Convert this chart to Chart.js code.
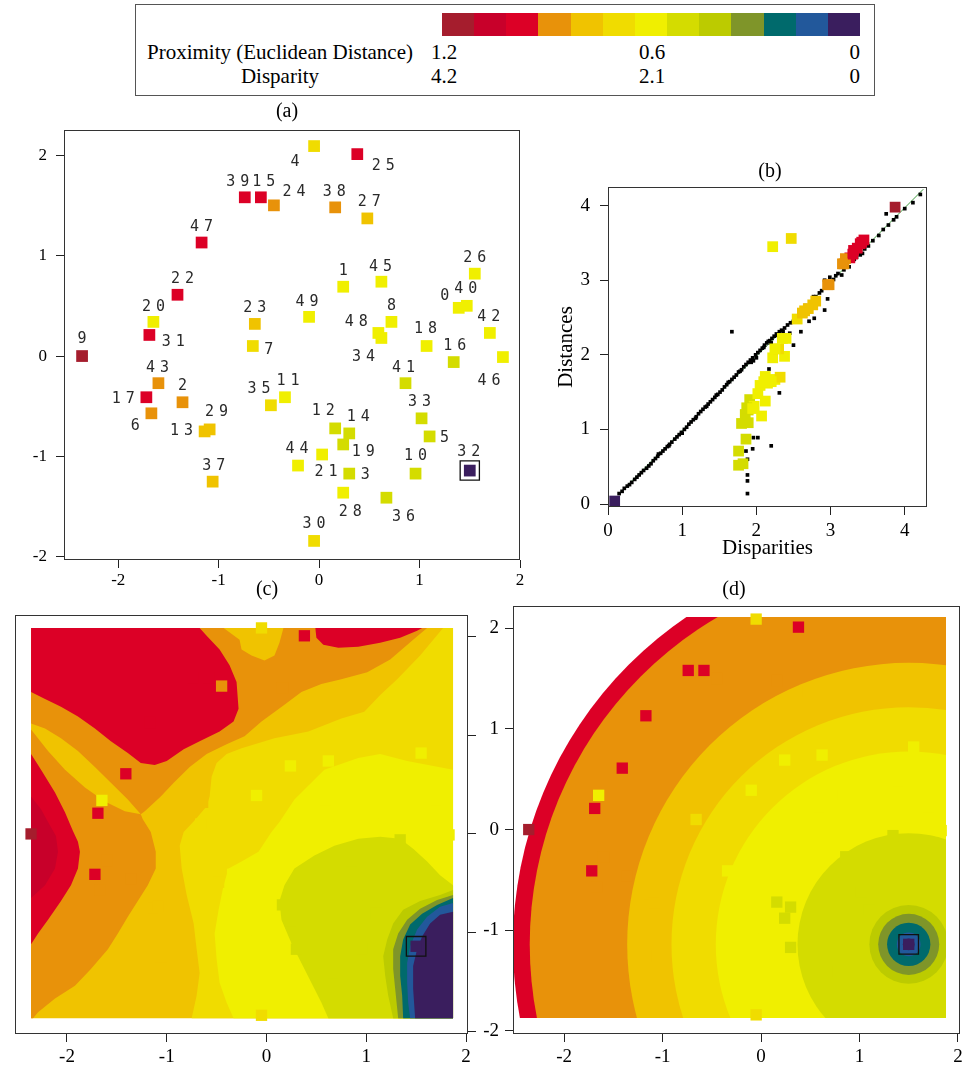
<!DOCTYPE html>
<html>
<head>
<meta charset="utf-8">
<title>MDS configuration and proximity maps</title>
<script src="https://cdn.jsdelivr.net/npm/chart.js@4.4.1/dist/chart.umd.min.js"></script>
<style>
  html, body { margin: 0; padding: 0; background: #fff; }
  body { position: relative; width: 973px; height: 1067px; overflow: hidden;
         font-family: "Liberation Serif", "Times New Roman", serif; color: #000; }
  canvas { position: absolute; }
  .tag { position: absolute; font-size: 20px; line-height: 1; white-space: nowrap; transform: translate(-50%, -50%); }
  #legend { position: absolute; left: 135px; top: 4px; width: 740px; height: 92px;
            border: 1.5px solid #555; box-sizing: border-box; }
  #bar { position: absolute; left: 306px; top: 8px; width: 418px; height: 23px; display: flex; }
  #bar span { flex: 1; }
  .lt { position: absolute; font-size: 21px; line-height: 1; white-space: nowrap; }
</style>
</head>
<body>

<div id="legend">
  <div id="bar"></div>
  <div class="lt" style="left:6px;width:276px;text-align:center;top:37px">Proximity (Euclidean Distance)</div>
  <div class="lt" style="left:6px;width:276px;text-align:center;top:61px">Disparity</div>
  <div class="lt" style="left:295px;top:37px">1.2</div>
  <div class="lt" style="left:516px;top:37px;transform:translateX(-50%)">0.6</div>
  <div class="lt" style="left:724px;top:37px;transform:translateX(-100%)">0</div>
  <div class="lt" style="left:295px;top:61px">4.2</div>
  <div class="lt" style="left:516px;top:61px;transform:translateX(-50%)">2.1</div>
  <div class="lt" style="left:724px;top:61px;transform:translateX(-100%)">0</div>
</div>

<canvas id="config" width="540" height="480" style="left:0;top:110px"></canvas>
<canvas id="shepard" width="420" height="400" style="left:550px;top:165px"></canvas>
<canvas id="surface" width="500" height="467" style="left:0;top:600px"></canvas>
<canvas id="rings" width="505" height="479" style="left:470px;top:588px"></canvas>

<div class="tag" style="left:287px;top:110px">(a)</div>
<div class="tag" style="left:770px;top:170px">(b)</div>
<div class="tag" style="left:267px;top:588px">(c)</div>
<div class="tag" style="left:734px;top:588px">(d)</div>

<script>
// colour classes, high proximity (dark red) down to zero (purple)
const palette = ['#a51d2d', '#c8002a', '#dc0026', '#e8920a', '#f0c300', '#f0dc00', '#f0ef00',
                 '#d4dc00', '#bccb00', '#7f9529', '#006a6c', '#22589b', '#3a1e5e'];

// MDS configuration, objects 0..49
const mdsX = [1.39, 0.24, -1.36, 0.30, -0.05, 1.10, -1.67, -0.66, 0.72, -2.36,
              0.96, -0.34, 0.16, -1.14, 0.30, -0.58, 1.34, -1.72, 1.07, 0.24,
              -1.65, 0.03, -1.41, -0.64, -0.45, 0.38, 1.55, 0.48, 0.24, -1.09,
              -0.05, -1.69, 1.50, 1.02, 0.62, -0.48, 0.67, -1.06, 0.16, -0.74,
              1.47, 0.86, 1.70, -1.60, -0.21, 0.62, 1.83, -1.17, 0.59, -0.10];
const mdsY = [0.48, 0.69, -0.46, -1.17, 2.09, -0.80, -0.57, 0.10, 0.34, 0.00,
              -1.17, -0.41, -0.72, -0.75, -0.77, 1.58, -0.06, -0.41, 0.10, -0.88,
              0.34, -0.98, 0.61, 0.32, 1.50, 2.01, 0.82, 1.37, -1.36, -0.73,
              -1.84, 0.21, -1.14, -0.62, 0.18, -0.49, -1.41, -1.25, 1.48, 1.58,
              0.50, -0.27, 0.23, -0.27, -1.09, 0.74, -0.01, 1.13, 0.23, 0.39];
// colour class of every object (index into palette)
const pointLevel = [6, 6, 3, 7, 5, 7, 3, 5, 6, 0,
                    7, 6, 7, 4, 7, 2, 7, 2, 6, 7,
                    6, 6, 2, 4, 3, 2, 6, 4, 6, 4,
                    5, 2, 12, 7, 6, 5, 7, 4, 3, 2,
                    6, 7, 6, 3, 6, 6, 6, 2, 6, 6];
const focusPoint = 32;

// Shepard diagram: disparity / distance of every object to object 32
const dispTo32 = [2.15, 2.40, 2.98, 1.85, 2.47, 1.76, 3.18, 2.55, 2.25, 3.87,
                  1.82, 2.38, 1.91, 2.76, 1.89, 3.36, 1.89, 3.26, 1.97, 1.87,
                  2.22, 2.02, 3.31, 2.65, 3.20, 3.30, 2.22, 2.80, 1.95, 2.70,
                  2.32, 3.40, 0.09, 1.76, 2.05, 2.30, 1.86, 2.62, 2.96, 3.45,
                  2.10, 1.80, 2.12, 3.16, 2.12, 2.25, 2.07, 3.42, 2.20, 2.35];
const distTo32 = [1.62, 2.22, 2.94, 1.20, 3.56, 0.52, 3.22, 2.48, 1.67, 3.98,
                  0.54, 1.98, 1.40, 2.67, 1.26, 3.43, 1.09, 3.30, 1.31, 1.29,
                  3.45, 1.48, 3.40, 2.59, 3.29, 3.35, 1.96, 2.72, 1.28, 2.62,
                  1.70, 3.49, 0.04, 0.71, 1.59, 2.08, 0.87, 2.56, 2.94, 3.54,
                  1.64, 1.08, 1.38, 3.22, 1.71, 2.08, 1.18, 3.51, 1.64, 2.22];

// all other object pairs: [disparity, distance]
const shepardPairs = [
  [0.15, 0.14], [0.19, 0.17], [0.22, 0.21], [0.26, 0.24], [0.29, 0.26], [0.32, 0.29],
  [0.36, 0.33], [0.39, 0.36], [0.42, 0.39], [0.45, 0.42], [0.48, 0.45], [0.52, 0.48],
  [0.55, 0.51], [0.58, 0.54], [0.61, 0.58], [0.64, 0.61], [0.67, 0.64], [0.71, 0.68],
  [0.74, 0.71], [0.77, 0.74], [0.80, 0.77], [0.83, 0.80], [0.86, 0.83], [0.90, 0.87],
  [0.93, 0.90], [0.96, 0.93], [0.99, 0.96], [1.03, 1.00], [1.06, 1.03], [1.09, 1.07],
  [1.12, 1.10], [1.15, 1.13], [1.19, 1.17], [1.22, 1.21], [1.25, 1.24], [1.28, 1.27],
  [1.31, 1.30], [1.35, 1.34], [1.38, 1.37], [1.41, 1.40], [1.44, 1.43], [1.48, 1.47],
  [1.51, 1.50], [1.54, 1.53], [1.57, 1.57], [1.60, 1.60], [1.64, 1.64], [1.67, 1.67],
  [1.70, 1.70], [1.73, 1.73], [1.76, 1.77], [1.80, 1.80], [1.83, 1.84], [1.86, 1.87],
  [1.89, 1.90], [1.92, 1.93], [1.95, 1.96], [1.99, 2.00], [2.02, 2.03], [2.05, 2.06],
  [2.08, 2.09], [2.11, 2.13], [2.14, 2.16], [2.18, 2.19], [2.21, 2.22], [2.24, 2.25],
  [2.27, 2.28], [2.31, 2.31], [2.34, 2.33], [2.38, 2.36], [2.42, 2.40], [2.46, 2.43],
  [0.68, 0.67], [0.82, 0.78], [1.00, 0.95], [1.18, 1.15], [1.33, 1.31], [1.46, 1.46],
  [1.62, 1.63], [1.78, 1.78], [1.93, 1.90], [1.96, 1.92], [2.00, 1.96], [2.10, 2.10],
  [2.16, 2.18], [2.20, 2.16], [2.28, 2.26], [2.36, 2.31],
  [2.50, 2.45], [2.55, 2.49], [2.60, 2.53], [2.64, 2.58], [2.66, 2.66], [2.70, 2.63],
  [2.74, 2.70], [2.77, 2.78], [2.80, 2.78], [2.85, 2.83], [2.88, 2.86], [2.92, 3.00],
  [2.96, 2.95], [2.99, 3.04], [3.04, 3.01], [3.07, 3.06], [3.10, 3.09], [3.15, 3.07],
  [3.18, 3.14], [3.22, 3.20], [3.25, 3.18], [3.30, 3.27], [3.35, 3.31], [3.40, 3.34],
  [3.43, 3.36], [3.46, 3.42], [3.51, 3.46], [3.57, 3.53], [3.65, 3.60], [3.71, 3.68],
  [3.75, 3.89], [3.78, 3.74], [3.85, 3.81], [3.89, 3.85], [4.00, 3.96], [4.11, 4.04],
  [4.21, 4.15],
  [1.67, 2.31], [2.17, 1.81], [2.31, 1.49], [1.96, 0.89], [2.02, 0.89], [1.95, 0.74],
  [2.20, 0.78], [1.86, 0.71], [1.88, 0.60], [1.88, 0.39], [1.88, 0.31], [1.88, 0.14],
  [2.45, 2.29], [2.50, 2.13], [2.60, 2.31], [2.71, 2.45], [2.78, 2.49], [2.92, 2.60],
  [2.96, 2.75], [3.32, 3.28]
];
const fitLineX = [0.15, 4.25];
const fitLineY = [0.14, 4.22];

// interpolated proximity surface, one polygon per colour class
const surfBase = [[-2.36, 2.09], [1.87, 2.09], [1.87, -1.87], [-2.36, -1.87]];
const surfOrangeUpper = [[-2.36, 2.09], [-0.43, 2.09], [-0.27, 1.97], [-0.25, 1.87], [-0.15, 1.81],
  [-0.02, 1.76], [0.08, 1.81], [0.13, 1.94], [0.17, 2.09], [1.61, 2.09], [1.47, 1.97], [1.24, 1.77],
  [1.01, 1.64], [0.75, 1.57], [0.55, 1.52], [0.35, 1.44], [0.18, 1.31], [-0.05, 1.14], [-0.22, 0.99],
  [-0.40, 0.91], [-0.60, 0.81], [-0.77, 0.68], [-0.93, 0.52], [-1.06, 0.38], [-1.22, 0.23],
  [-1.26, 0.20], [-1.39, 0.35], [-1.56, 0.52], [-1.72, 0.68], [-1.89, 0.84], [-2.06, 0.97],
  [-2.22, 1.07], [-2.36, 1.12]];
const surfOrangeLower = [[-2.36, 1.06], [-2.19, 0.84], [-2.02, 0.65], [-1.82, 0.47], [-1.62, 0.33],
  [-1.42, 0.23], [-1.26, 0.20], [-1.24, 0.15], [-1.16, 0.02], [-1.11, -0.18], [-1.11, -0.35],
  [-1.19, -0.52], [-1.29, -0.68], [-1.39, -0.84], [-1.49, -1.01], [-1.59, -1.17], [-1.76, -1.37],
  [-1.92, -1.54], [-2.12, -1.67], [-2.29, -1.81], [-2.34, -1.87], [-2.36, -1.87]];
const surfRedUpperLeft = [[-2.36, 2.09], [-0.67, 2.09], [-0.60, 2.01], [-0.47, 1.87], [-0.37, 1.71],
  [-0.30, 1.54], [-0.28, 1.27], [-0.33, 1.14], [-0.47, 1.04], [-0.67, 0.94], [-0.83, 0.86],
  [-1.00, 0.74], [-1.12, 0.70], [-1.26, 0.72], [-1.39, 0.82], [-1.56, 0.94], [-1.72, 1.07],
  [-1.89, 1.19], [-2.06, 1.29], [-2.22, 1.37], [-2.36, 1.44]];
const surfRedUpperRight = [[0.49, 2.09], [0.50, 1.99], [0.57, 1.92], [0.72, 1.89], [0.92, 1.90],
  [1.14, 1.94], [1.34, 1.99], [1.51, 2.06], [1.56, 2.09]];
const surfRedLeft = [[-2.36, 0.81], [-2.26, 0.65], [-2.12, 0.42], [-2.02, 0.22], [-1.97, 0.10],
  [-1.94, 0.03], [-1.89, -0.08], [-1.87, -0.18], [-1.89, -0.35], [-1.96, -0.52], [-2.06, -0.68],
  [-2.19, -0.87], [-2.29, -1.01], [-2.36, -1.12]];
const surfDarkRed = [[-2.36, 0.38], [-2.26, 0.25], [-2.19, 0.12], [-2.11, -0.02], [-2.09, -0.18],
  [-2.12, -0.35], [-2.22, -0.52], [-2.36, -0.65]];
const surfPaleGold = [[1.77, 2.09], [1.54, 1.81], [1.31, 1.57], [1.14, 1.41], [0.98, 1.24],
  [0.75, 1.17], [0.42, 1.04], [0.08, 0.97], [-0.25, 0.87], [-0.40, 0.81], [-0.50, 0.72],
  [-0.55, 0.58], [-0.57, 0.38], [-0.60, 0.28], [-0.71, 0.15], [-0.83, 0.02], [-0.87, -0.12],
  [-0.85, -0.35], [-0.80, -0.62], [-0.73, -0.91], [-0.70, -1.17], [-0.67, -1.41], [-0.70, -1.64],
  [-0.75, -1.87], [1.87, -1.87], [1.87, 2.09]];
const surfYellow = [[1.87, 0.65], [1.41, 0.74], [1.14, 0.81], [0.92, 0.77], [0.58, 0.65],
  [0.28, 0.35], [0.13, 0.12], [0.05, 0.02], [-0.08, -0.18], [-0.25, -0.28], [-0.38, -0.35],
  [-0.43, -0.52], [-0.48, -0.77], [-0.52, -1.01], [-0.50, -1.27], [-0.47, -1.51], [-0.40, -1.71],
  [-0.33, -1.87], [1.87, -1.87]];
const surfLime = [[1.87, -0.52], [1.74, -0.42], [1.61, -0.28], [1.47, -0.15], [1.34, -0.05],
  [1.14, -0.03], [0.92, -0.05], [0.68, -0.12], [0.48, -0.22], [0.28, -0.35], [0.18, -0.52],
  [0.13, -0.68], [0.15, -0.87], [0.25, -1.11], [0.35, -1.31], [0.45, -1.51], [0.55, -1.71],
  [0.62, -1.87], [1.87, -1.87]];
const surfYellowGreen = [[1.87, -0.57], [1.74, -0.62], [1.54, -0.68], [1.37, -0.77], [1.27, -0.91],
  [1.21, -1.07], [1.17, -1.24], [1.19, -1.44], [1.22, -1.64], [1.27, -1.87], [1.87, -1.87]];
const surfOlive = [[1.87, -0.62], [1.71, -0.67], [1.54, -0.76], [1.41, -0.87], [1.32, -1.01],
  [1.27, -1.17], [1.27, -1.37], [1.29, -1.57], [1.32, -1.87], [1.87, -1.87]];
const surfTeal = [[1.87, -0.65], [1.71, -0.72], [1.56, -0.81], [1.44, -0.92], [1.37, -1.07],
  [1.34, -1.24], [1.34, -1.44], [1.36, -1.64], [1.37, -1.87], [1.87, -1.87]];
const surfBlue = [[1.87, -0.70], [1.74, -0.74], [1.61, -0.84], [1.51, -0.97], [1.44, -1.14],
  [1.41, -1.31], [1.41, -1.51], [1.42, -1.71], [1.44, -1.87], [1.87, -1.87]];
const surfPurple = [[1.87, -0.79], [1.74, -0.82], [1.64, -0.91], [1.56, -1.04], [1.51, -1.17],
  [1.47, -1.34], [1.47, -1.57], [1.49, -1.87], [1.87, -1.87]];
// bottom to top: [colour class, polygon]
const surfaceLayers = [
  [4, surfBase], [3, surfOrangeUpper], [3, surfOrangeLower], [2, surfRedUpperLeft],
  [2, surfRedUpperRight], [2, surfRedLeft], [1, surfDarkRed], [5, surfPaleGold], [6, surfYellow],
  [7, surfLime], [8, surfYellowGreen], [9, surfOlive], [10, surfTeal], [11, surfBlue], [12, surfPurple]
];

// Euclidean distance bands around object 32 (outer radius of each band)
const ringBounds = [-2.51, 1.88, -1.87, 2.11];   // xmin, xmax, ymin, ymax
const bandRadius = [4.02, 3.85, 2.86, 2.41, 1.96, 1.13, 0.40, 0.31, 0.22, 0.12, 0.06];
const bandLevel = [2, 3, 4, 5, 6, 7, 8, 9, 10, 11, 12];

// tick values
const mapTicks = [-2, -1, 0, 1, 2];
const shepTicks = [0, 1, 2, 3, 4];

// label placement around each square in (a), pixels
const labelOffset = [
  [-14, -12], [0, -16], [0, -16], [16, 2], [-19, 16], [15, 2], [-16, 13], [16, 4], [0, -16], [0, -17],
  [0, -17], [3, -16], [-12, -17], [-23, 0], [9, -16], [3, -15], [1, -16], [-23, 2], [-1, -17], [20, 8],
  [0, -15], [4, 18], [5, -16], [0, -16], [20, -13], [26, 12], [0, -16], [2, -16], [7, 19], [7, -17],
  [0, -17], [24, 7], [-1, -18], [-2, -16], [-18, 19], [-12, -16], [17, 19], [1, -16], [-1, -15], [-7, -15],
  [-1, -17], [-2, -15], [-1, -16], [-1, -15], [-1, -16], [-1, -15], [-14, 24], [0, -15], [-22, -11], [-2, -15]
];

// colour bar of the legend
const bar = document.getElementById('bar');
palette.forEach(c => {
  const s = document.createElement('span');
  s.style.background = c;
  bar.appendChild(s);
});

const serif = '"Liberation Serif", "Times New Roman", serif';
Chart.defaults.font.family = serif;
Chart.defaults.color = '#000';

const pointColours = pointLevel.map(l => palette[l]);
const configPoints = mdsX.map((x, i) => ({ x: x, y: mdsY[i] }));
const focusData = [{ x: mdsX[focusPoint], y: mdsY[focusPoint] }];

function axis(position, min, max, values, size, fontSize, labels, pad) {
  const vertical = position === 'left' || position === 'right';
  return {
    type: 'linear', position: position, min: min, max: max,
    afterBuildTicks: s => { s.ticks = values.map(v => ({ value: v })); },
    afterFit: s => { if (vertical) s.width = size; else s.height = size; },
    grid: { drawOnChartArea: false, drawTicks: true, tickLength: 8, tickColor: '#222', lineWidth: 1 },
    border: { display: false },
    ticks: { display: labels, color: '#000', font: { family: serif, size: fontSize }, padding: pad, maxRotation: 0 }
  };
}

const frame = {
  id: 'frame',
  afterDraw(chart) {
    const a = chart.chartArea, ctx = chart.ctx;
    ctx.save();
    ctx.strokeStyle = '#333';
    ctx.lineWidth = 1;
    ctx.strokeRect(Math.round(a.left) + 0.5, Math.round(a.top) + 0.5,
                   Math.round(a.right - a.left) - 1, Math.round(a.bottom - a.top) - 1);
    ctx.restore();
  }
};

// restricts a dataset to the rectangle its surface was computed on
const fieldClip = {
  id: 'fieldClip',
  beforeDatasetDraw(chart, args) {
    const r = chart.data.datasets[args.index].clipRect;
    if (!r) return;
    const sx = chart.scales.x, sy = chart.scales.y, ctx = chart.ctx;
    const l = sx.getPixelForValue(r[0]), rt = sx.getPixelForValue(r[1]);
    const b = sy.getPixelForValue(r[2]), t = sy.getPixelForValue(r[3]);
    ctx.save();
    ctx.beginPath();
    ctx.rect(l, t, rt - l, b - t);
    ctx.clip();
  },
  afterDatasetDraw(chart, args) {
    if (chart.data.datasets[args.index].clipRect) chart.ctx.restore();
  }
};

const idLabels = {
  id: 'idLabels',
  afterDatasetsDraw(chart) {
    const meta = chart.getDatasetMeta(1);
    const ctx = chart.ctx;
    const pitch = 14;
    ctx.save();
    ctx.font = '15px "DejaVu Sans Mono", monospace';
    ctx.fillStyle = '#2a2a2a';
    ctx.textAlign = 'center';
    ctx.textBaseline = 'middle';
    meta.data.forEach((pt, i) => {
      const text = String(i);
      const cx = pt.x + labelOffset[i][0], cy = pt.y + labelOffset[i][1];
      for (let k = 0; k < text.length; k++) {
        ctx.fillText(text[k], cx + (k - (text.length - 1) / 2) * pitch, cy);
      }
    });
    ctx.restore();
  }
};

const baseOptions = {
  responsive: false, animation: false, events: [],
  plugins: { legend: { display: false }, tooltip: { enabled: false } }
};

function focusBox(radius) {
  return { data: focusData, order: 0, pointStyle: 'rect', pointRadius: radius,
           backgroundColor: 'rgba(0,0,0,0)', borderColor: '#111', borderWidth: 1.3 };
}
function objectSquares(radius) {
  return { data: configPoints, order: 1, pointStyle: 'rect', pointRadius: radius,
           backgroundColor: pointColours, borderWidth: 0 };
}

// (a) configuration
new Chart(document.getElementById('config'), {
  type: 'scatter',
  data: { datasets: [focusBox(13.6), objectSquares(8.3)] },
  options: Object.assign({}, baseOptions, {
    layout: { padding: { left: 0, top: 20, right: 20, bottom: 0 } },
    scales: {
      x: axis('bottom', -2.54, 2.0, mapTicks, 30, 17, true, 2),
      y: axis('left', -2.03, 2.25, mapTicks, 64, 17, true, 9)
    }
  }),
  plugins: [frame, idLabels]
});

// (b) Shepard diagram
const shepX = axis('bottom', 0, 4.30, shepTicks, 58, 19, true, 5);
shepX.title = { display: true, text: 'Disparities', font: { family: serif, size: 21 }, color: '#000' };
const shepY = axis('left', -0.04, 4.25, shepTicks, 58, 19, true, 10);
shepY.title = { display: true, text: 'Distances', font: { family: serif, size: 21 }, color: '#000' };
new Chart(document.getElementById('shepard'), {
  type: 'scatter',
  data: {
    datasets: [
      { data: dispTo32.map((d, i) => ({ x: d, y: distTo32[i] })), order: 0, pointStyle: 'rect',
        pointRadius: 7.6, backgroundColor: pointColours, borderWidth: 0 },
      { data: shepardPairs.map(p => ({ x: p[0], y: p[1] })), order: 1, pointStyle: 'rect',
        pointRadius: 2.6, backgroundColor: '#000', borderWidth: 0 },
      { data: fitLineX.map((x, i) => ({ x: x, y: fitLineY[i] })), order: 2, showLine: true,
        borderColor: '#3f9a3f', borderWidth: 1, pointRadius: 0 }
    ]
  },
  options: Object.assign({}, baseOptions, {
    layout: { padding: { left: 0, top: 22, right: 43, bottom: 0 } },
    scales: { x: shepX, y: shepY }
  }),
  plugins: [frame]
});

// (c) interpolated proximity surface
const surfaceSets = surfaceLayers.map((layer, i) => ({
  data: layer[1].map(p => ({ x: p[0], y: p[1] })),
  order: 100 - i, showLine: true, fill: 'shape', tension: 0,
  backgroundColor: palette[layer[0]], borderColor: palette[layer[0]], borderWidth: 0, pointRadius: 0
}));
new Chart(document.getElementById('surface'), {
  type: 'scatter',
  data: { datasets: [focusBox(13.8), objectSquares(8)].concat(surfaceSets) },
  options: Object.assign({}, baseOptions, {
    layout: { padding: { left: 11, top: 6, right: 0, bottom: 0 } },
    scales: {
      x: axis('bottom', -2.52, 2.02, mapTicks, 33, 19, true, 4),
      y: axis('right', -2.03, 2.22, mapTicks, 32, 19, false, 4)
    }
  }),
  plugins: [frame]
});

// (d) distance bands around object 32
const ringSet = {
  data: bandRadius.map(() => ({ x: mdsX[focusPoint], y: mdsY[focusPoint] })),
  order: 50, clipRect: ringBounds, pointStyle: 'circle', borderWidth: 0,
  backgroundColor: bandLevel.map(l => palette[l]),
  pointRadius: c => {
    const s = c.chart.scales.x;
    return Math.abs(s.getPixelForValue(bandRadius[c.dataIndex]) - s.getPixelForValue(0));
  }
};
new Chart(document.getElementById('rings'), {
  type: 'scatter',
  data: { datasets: [focusBox(13.8), objectSquares(8), ringSet] },
  options: Object.assign({}, baseOptions, {
    layout: { padding: { left: 0, top: 18, right: 6, bottom: 0 } },
    scales: {
      x: axis('bottom', -2.52, 2.02, mapTicks, 33, 19, true, 4),
      y: axis('left', -2.03, 2.22, mapTicks, 43, 19, true, 6)
    }
  }),
  plugins: [frame, fieldClip]
});
</script>
</body>
</html>
